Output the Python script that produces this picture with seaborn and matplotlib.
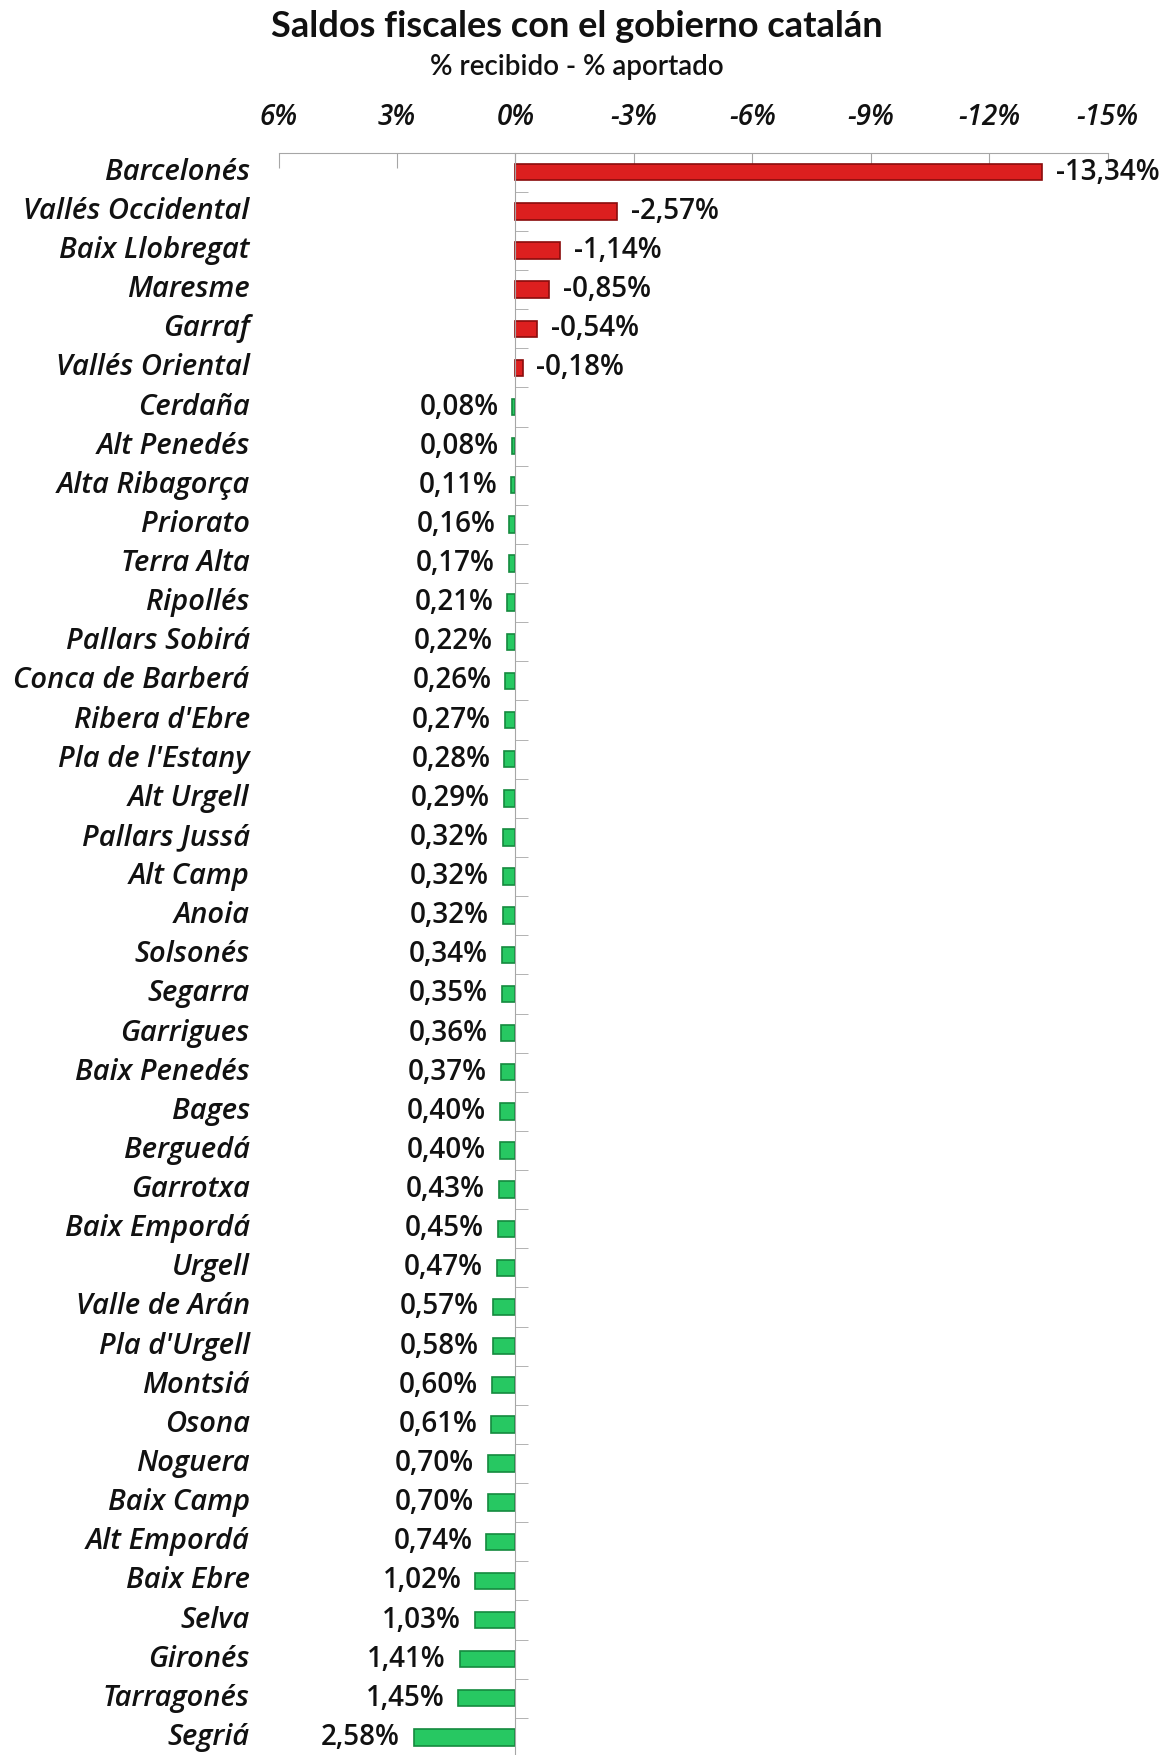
import matplotlib
matplotlib.use('Agg')
import numpy as np
import pandas as pd
import matplotlib.pyplot as plt
import seaborn as sns
from matplotlib.ticker import FixedLocator, FuncFormatter

##### Data #####################################################################
comarcas = [
    'Barcelonés', 'Vallés Occidental', 'Baix Llobregat', 'Maresme', 'Garraf',
    'Vallés Oriental', 'Cerdaña', 'Alt Penedés', 'Alta Ribagorça', 'Priorato',
    'Terra Alta', 'Ripollés', 'Pallars Sobirá', 'Conca de Barberá',
    "Ribera d'Ebre", "Pla de l'Estany", 'Alt Urgell', 'Pallars Jussá',
    'Alt Camp', 'Anoia', 'Solsonés', 'Segarra', 'Garrigues', 'Baix Penedés',
    'Bages', 'Berguedá', 'Garrotxa', 'Baix Empordá', 'Urgell', 'Valle de Arán',
    "Pla d'Urgell", 'Montsiá', 'Osona', 'Noguera', 'Baix Camp', 'Alt Empordá',
    'Baix Ebre', 'Selva', 'Gironés', 'Tarragonés', 'Segriá']
saldos = [
    -13.34, -2.57, -1.14, -0.85, -0.54, -0.18, 0.08, 0.08, 0.11, 0.16,
    0.17, 0.21, 0.22, 0.26, 0.27, 0.28, 0.29, 0.32, 0.32, 0.32,
    0.34, 0.35, 0.36, 0.37, 0.40, 0.40, 0.43, 0.45, 0.47, 0.57,
    0.58, 0.60, 0.61, 0.70, 0.70, 0.74, 1.02, 1.03, 1.41, 1.45, 2.58]
x_ticks = [6, 3, 0, -3, -6, -9, -12, -15]

df = pd.DataFrame({'Comarca': comarcas, 'Saldo': saldos})

##### Style ####################################################################
sns.set_style('white')
plt.rcParams['font.family'] = ['Open Sans', 'DejaVu Sans']

##### Figure ###################################################################
fig = plt.figure(figsize=(11.61, 17.55), dpi=100)
ax = fig.add_axes([0.240, 0.0, 0.714, 0.913])

sns.barplot(ax=ax, data=df, x='Saldo', y='Comarca', orient='h',
    width=0.42, color='#25c460', linewidth=1.2)

# Red for comarcas that contribute, green for those that receive
for bar, v in zip(ax.patches, df['Saldo']):
    bar.set_facecolor('#dc1f1f' if v < 0 else '#27c862')
    bar.set_edgecolor('#8a0c0c' if v < 0 else '#148a3e')

ax.set_xlim(6, -15)
ax.set_ylim(40.45, -0.5)

# Value labels
labels = [f'{v:.2f}%'.replace('.', ',') for v in df['Saldo']]
ax.bar_label(ax.containers[0], labels=labels, padding=10,
    fontsize=20, fontweight='semibold', color='#111111')

# Category labels
for i, name in enumerate(df['Comarca']):
    ax.text(-0.035, i, name, transform=ax.get_yaxis_transform(),
        ha='right', va='center', fontsize=21, fontweight='semibold',
        fontstyle='italic', color='#111111')

# Axes
ax.set_xlabel('')
ax.set_ylabel('')
for side in ['bottom', 'right']:
    ax.spines[side].set_visible(False)
ax.spines['top'].set_color('#a6a6a6')
ax.spines['left'].set_color('#a6a6a6')
ax.spines['left'].set_position(('data', 0))

ax.xaxis.set_major_locator(FixedLocator(x_ticks))
ax.xaxis.set_major_formatter(FuncFormatter(lambda v, p: f'{int(round(v))}%'))
ax.xaxis.tick_top()
ax.tick_params(axis='x', direction='in', length=11, color='#a6a6a6',
    pad=15, labelsize=20)
for t in ax.get_xticklabels():
    t.set_fontweight('semibold')
    t.set_fontstyle('italic')
    t.set_color('#111111')

ax.set_yticks([])
ax.yaxis.set_minor_locator(FixedLocator(np.arange(0.5, 40.5, 1)))
ax.tick_params(axis='y', which='minor', direction='in', length=9,
    color='#a6a6a6', left=True)

# Title
fig.text(0.497, 0.985, 'Saldos fiscales con el gobierno catalán',
    ha='center', va='center', fontsize=26, fontweight='bold',
    family=['Lato', 'DejaVu Sans'], color='#111111')
fig.text(0.497, 0.962, '% recibido - % aportado',
    ha='center', va='center', fontsize=20, fontweight='semibold',
    family=['Lato', 'DejaVu Sans'], color='#111111')

plt.savefig('out.png', dpi=100)
